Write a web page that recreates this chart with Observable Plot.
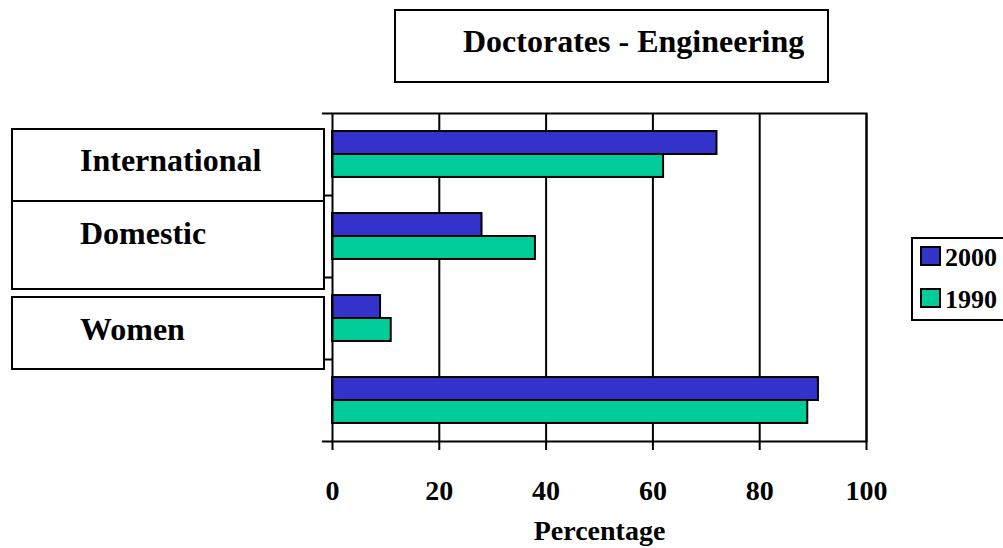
<!DOCTYPE html>
<html>
<head>
<meta charset="utf-8">
<script src="https://cdn.jsdelivr.net/npm/d3@7"></script>
<script src="https://cdn.jsdelivr.net/npm/@observablehq/plot@0.6"></script>
<style>
  body { margin: 0; background: #fff; }
  #wrap { position: relative; width: 1003px; height: 548px; overflow: hidden; }
  #wrap svg { display: block; }
  #overlay { position: absolute; left: 0; top: 0; pointer-events: none; }
</style>
</head>
<body>
<div id="wrap"></div>
<script>
// ---- data ----
const title = "Doctorates - Engineering";
const categories = ["International", "Domestic", "Women", "Men"];
const shownLabels = ["International", "Domestic", "Women"]; // the 4th has no label box in the reference
const years = ["2000", "1990"];
const values2000 = [72, 28, 9, 91];
const values1990 = [62, 38, 11, 89];
const colors = ["#3333cc", "#00cc99"];
const xTicks = [0, 20, 40, 60, 80, 100];
const xLabel = "Percentage";

// ---- table ----
const series = [values2000, values1990];
const rows = categories.flatMap((c, i) =>
  years.map((yr, j) => ({category: c, idx: i, year: yr, slot: j, value: series[j][i]}))
);

// layout of a category band (fractions of a band)
const bandPad = 0.22, barFrac = 0.28;

const font = "'Liberation Serif', 'Times New Roman', serif";

const chart = Plot.plot({
  width: 1003,
  height: 548,
  marginLeft: 332,
  marginRight: 137,
  marginTop: 113,
  marginBottom: 107,
  style: {fontFamily: font, fontWeight: "bold", fontSize: "28px", color: "#000", background: "#fff"},
  x: {domain: [0, 100]},
  y: {domain: [categories.length, 0]},
  color: {domain: years, range: colors},
  marks: [
    Plot.ruleX(xTicks.filter(t => t > 0), {stroke: "#000", strokeWidth: 2}),
    Plot.rect(rows, {
      x1: 0,
      x2: "value",
      y1: d => d.idx + bandPad + barFrac * d.slot,
      y2: d => d.idx + bandPad + barFrac * (d.slot + 1),
      fill: "year",
      stroke: "#000",
      strokeWidth: 2
    }),
    Plot.frame({stroke: "#000", strokeWidth: 2}),
    Plot.axisY({ticks: d3.range(0, categories.length + 1), tickFormat: () => "", tickSize: 10, strokeWidth: 2, label: null}),
    Plot.axisX({
      ticks: xTicks, tickSize: 9, tickPadding: 30, strokeWidth: 2,
      fontSize: 28, fontWeight: "bold",
      label: xLabel, labelAnchor: "center", labelArrow: "none", labelOffset: 98
    })
  ]
});

const wrap = document.getElementById("wrap");
wrap.appendChild(chart);

// ---- overlay: title box, category label boxes, legend ----
const svg = d3.select(wrap).append("svg")
  .attr("id", "overlay").attr("width", 1003).attr("height", 548)
  .style("font-family", font).style("font-weight", "bold");

// title
svg.append("rect").attr("x", 395).attr("y", 10).attr("width", 433).attr("height", 72)
  .attr("fill", "#fff").attr("stroke", "#000").attr("stroke-width", 2);
svg.append("text").attr("x", 463).attr("y", 52).attr("font-size", 32).text(title);

// category label boxes
const labelBoxes = [
  {y: 129, h: 72, base: 171},
  {y: 201, h: 88, base: 244},
  {y: 297, h: 72, base: 340}
];
shownLabels.forEach((lab, i) => {
  const b = labelBoxes[i];
  svg.append("rect").attr("x", 12).attr("y", b.y).attr("width", 312).attr("height", b.h)
    .attr("fill", "#fff").attr("stroke", "#000").attr("stroke-width", 2);
  svg.append("text").attr("x", 80).attr("y", b.base).attr("font-size", 32).text(lab);
});

// legend
svg.append("rect").attr("x", 912).attr("y", 238).attr("width", 120).attr("height", 82)
  .attr("fill", "#fff").attr("stroke", "#000").attr("stroke-width", 2);
years.forEach((yr, j) => {
  const y0 = 247 + j * 42;
  svg.append("rect").attr("x", 921).attr("y", y0).attr("width", 19).attr("height", 18)
    .attr("fill", colors[j]).attr("stroke", "#000").attr("stroke-width", 2);
  svg.append("text").attr("x", 945).attr("y", y0 + 19).attr("font-size", 26).text(yr);
});
</script>
</body>
</html>
